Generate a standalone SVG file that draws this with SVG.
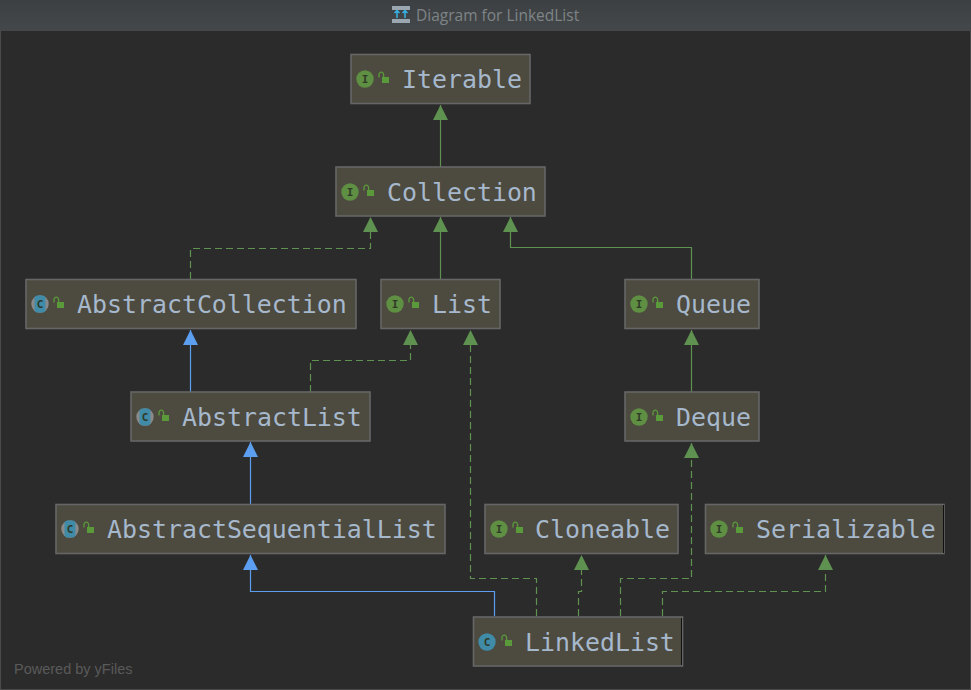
<svg xmlns="http://www.w3.org/2000/svg" width="971" height="690" viewBox="0 0 971 690">
<style>
.box{fill:#4d4a40;stroke:#666666;stroke-width:1.600}
.name{font-family:"DejaVu Sans Mono",monospace;font-size:24.900px;fill:#a6b8cc}
.ltr{font-family:"DejaVu Sans Mono",monospace;font-size:11px;font-weight:bold;fill:#2f3a28;text-anchor:middle}
.i{fill:#5f8f42}
.c{fill:#3f8ba8}
.lock{fill:#5a9a3a}
.shack{fill:none;stroke:#5a9a3a;stroke-width:1.300}
.e{fill:none;stroke-width:1.200}
.g{stroke:#5f9150}
.b{stroke:#5c9ff0}
.d{stroke-dasharray:7 4}
</style>
<defs>
<marker id="ag" markerUnits="userSpaceOnUse" markerWidth="17" markerHeight="17" refX="15" refY="7.5" orient="auto"><path d="M0 0L15 7.500L0 15Z" fill="#5f9150"/></marker>
<marker id="ab" markerUnits="userSpaceOnUse" markerWidth="17" markerHeight="17" refX="15" refY="7.5" orient="auto"><path d="M0 0L15 7.500L0 15Z" fill="#5c9ff0"/></marker>
<linearGradient id="bar" x1="0" y1="0" x2="0" y2="1"><stop offset="0" stop-color="#3c4042"/><stop offset="1" stop-color="#44484a"/></linearGradient>
<g id="lk"><rect x="0" y="2" width="7" height="6" class="lock"/><path d="M-3 2.500V-0.500a2.300 2.300 0 0 1 4.600 0V2" class="shack"/></g>
<g id="ii"><circle r="8.700" class="i"/><text y="4" class="ltr">I</text></g>
<g id="cc"><circle r="8.700" class="c"/><text y="4" class="ltr">C</text></g>
<g id="ca"><circle r="8.700" fill="#8a8a8a"/><rect x="-5.500" y="-8.500" width="11" height="17" rx="3" class="c"/><text y="4" class="ltr">C</text></g>
</defs>
<rect width="971" height="690" fill="#2b2b2b"/>
<rect x="0.500" y="0.500" width="970" height="689" fill="none" stroke="#4a4a4a"/>
<g id="titlebar">
<rect x="0" y="0" width="971" height="31" fill="url(#bar)"/>
<rect x="392" y="6" width="18" height="4" fill="#9aa7b0"/><rect x="392" y="19" width="18" height="4" fill="#9aa7b0"/>
<path d="M397 18V11M394.500 13L397 10.500L399.500 13M405 18V11M402.500 13L405 10.500L407.500 13" fill="none" stroke="#35b3e6" stroke-width="1.500"/>
<text x="416" y="21" font-family="'Open Sans','Liberation Sans',sans-serif" font-size="15.500" fill="#7f8488">Diagram for LinkedList</text>
</g>
<g id="connectors">
<path class="e g" marker-end="url(#ag)" d="M440.500 167V105"/>
<path class="e g d" marker-end="url(#ag)" d="M190.500 279V248.500H370.500V217"/>
<path class="e g" marker-end="url(#ag)" d="M440.500 279V217"/>
<path class="e g" marker-end="url(#ag)" d="M691.500 279V247.500H510.500V217"/>
<path class="e b" marker-end="url(#ab)" d="M190.500 392V330"/>
<path class="e g d" marker-end="url(#ag)" d="M310.500 392V360.500H410.500V330"/>
<path class="e g" marker-end="url(#ag)" d="M691.500 392V330"/>
<path class="e b" marker-end="url(#ab)" d="M250.500 504V442"/>
<path class="e g d" marker-end="url(#ag)" d="M536.500 616V578.500H470.500V330"/>
<path class="e g d" marker-end="url(#ag)" d="M620.500 616V578.500H691.500V443"/>
<path class="e b" marker-end="url(#ab)" d="M494.500 616V591.500H250.500V555"/>
<path class="e g d" marker-end="url(#ag)" d="M578.500 616V591.500H581.500V555"/>
<path class="e g d" marker-end="url(#ag)" d="M662.500 616V591.500H825.500V555"/>
</g>
<g id="Iterable"><rect class="box" x="351" y="54.500" width="179" height="49"/><use href="#ii" x="365" y="79"/><use href="#lk" x="382" y="75"/><text class="name" x="402" y="87.500">Iterable</text></g>
<g id="Collection"><rect class="box" x="336" y="167" width="209" height="49"/><use href="#ii" x="350" y="192"/><use href="#lk" x="367" y="188"/><text class="name" x="387" y="200.500">Collection</text></g>
<g id="AbstractCollection"><rect class="box" x="26" y="279.500" width="330" height="49"/><use href="#ca" x="40" y="304"/><use href="#lk" x="57" y="300"/><text class="name" x="77" y="312.500">AbstractCollection</text></g>
<g id="List"><rect class="box" x="381" y="279.500" width="119" height="49"/><use href="#ii" x="395" y="304"/><use href="#lk" x="412" y="300"/><text class="name" x="432" y="312.500">List</text></g>
<g id="Queue"><rect class="box" x="625" y="279.500" width="134" height="49"/><use href="#ii" x="639" y="304"/><use href="#lk" x="656" y="300"/><text class="name" x="676" y="312.500">Queue</text></g>
<g id="AbstractList"><rect class="box" x="131" y="392" width="239" height="49"/><use href="#ca" x="145" y="417"/><use href="#lk" x="162" y="413"/><text class="name" x="182" y="425.500">AbstractList</text></g>
<g id="Deque"><rect class="box" x="625" y="392" width="134" height="49"/><use href="#ii" x="639" y="417"/><use href="#lk" x="656" y="413"/><text class="name" x="676" y="425.500">Deque</text></g>
<g id="AbstractSequentialList"><rect class="box" x="56" y="504.500" width="389" height="49"/><use href="#ca" x="70" y="529"/><use href="#lk" x="87" y="525"/><text class="name" x="107" y="537.500">AbstractSequentialList</text></g>
<g id="Cloneable"><rect class="box" x="485" y="504.500" width="193" height="49"/><use href="#ii" x="499" y="529"/><use href="#lk" x="516" y="525"/><text class="name" x="535" y="537.500">Cloneable</text></g>
<g id="Serializable"><rect class="box" x="705.500" y="504.500" width="238.500" height="49"/><rect x="943" y="505" width="1" height="48" fill="#111"/><use href="#ii" x="719" y="529"/><use href="#lk" x="736" y="525"/><text class="name" x="756" y="537.500">Serializable</text></g>
<g id="LinkedList"><rect class="box" x="473.500" y="617" width="209" height="49"/><rect x="681" y="618" width="1" height="47" fill="#111"/><use href="#cc" x="487" y="642"/><use href="#lk" x="505" y="638"/><text class="name" x="525" y="650.500">LinkedList</text></g>
<text x="14" y="674" font-family="'Liberation Sans',Arial,sans-serif" font-size="14.500" fill="#5a5a5a">Powered by yFiles</text>
</svg>
